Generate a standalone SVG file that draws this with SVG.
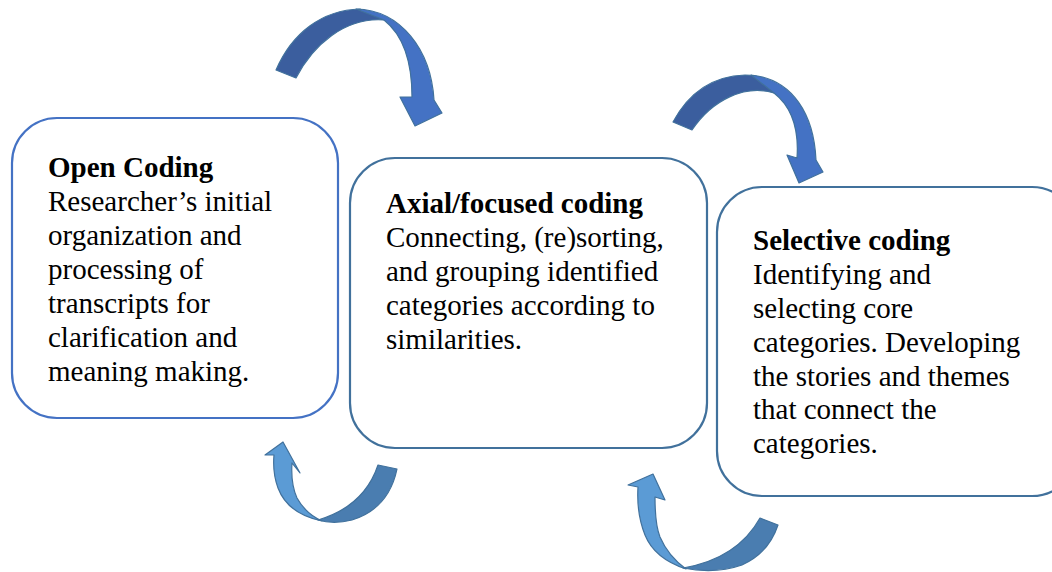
<svg xmlns="http://www.w3.org/2000/svg" width="1052" height="572" viewBox="0 0 1052 572">
  <style>
    .box { fill: #ffffff; stroke-width: 2.2; }
    .b1 { stroke: #4472C4; }
    .b2 { stroke: #41719C; }
    .t { font-family: 'Liberation Serif', 'Times New Roman', serif; font-size: 29px; fill: #000000; }
    .h { font-weight: bold; }
    .dn-back { fill: #3B5E9E; stroke: #41719C; stroke-width: 1.2; stroke-linejoin: round; }
    .dn-front { fill: #4472C4; stroke: #41719C; stroke-width: 1.2; stroke-linejoin: round; }
    .up-back { fill: #4A7DB0; stroke: #41719C; stroke-width: 1.2; stroke-linejoin: round; }
    .up-front { fill: #5B9BD5; stroke: #41719C; stroke-width: 1.2; stroke-linejoin: round; }
  </style>

  <!-- curved block arrows -->
  <g id="connectors">
    <!-- top arrow: Open Coding to Axial coding -->
    <g id="arrow-open-axial">
      <path class="dn-back" d="M276,70 C292,33 322,10 360,9 L384,20 C345,17 313,45 296,78 Z"/>
      <path class="dn-front" d="M356,9 C401,10 431,50 434,100 L442,113 L415,126 L400,97 L412,97 C412,62 403,35 384,20 Z"/>
    </g>
    <!-- top arrow: Axial coding to Selective coding -->
    <g id="arrow-axial-selective">
      <path class="dn-back" d="M673,122 C688,94 712,76 745,75 C755,75 762,77 767,81 L774,93 C745,84 712,100 692,130 Z"/>
      <path class="dn-front" d="M751,75 C793,79 814,115 816,160 L823,172 L799,183 L787,155 L797,158 C799,130 792,107 774,93 Z"/>
    </g>
    <!-- bottom arrow: back toward Open Coding -->
    <g id="arrow-axial-open">
      <path class="up-back" d="M378,465 L397,469 C392,493 378,512 352,520 C340,523 328,523 318,520 C345,512 368,495 378,465 Z"/>
      <path class="up-front" d="M322,521 C298,516 284,504 278,488 C274,477 273,466 274,455 L265,455 L283,442 L300,473 L292,463 C291,478 293,489 297,498 C303,509 311,516 322,521 Z"/>
    </g>
    <!-- bottom arrow: back toward Axial coding -->
    <g id="arrow-selective-axial">
      <path class="up-back" d="M760,518 L778,525 C772,543 760,557 742,565 C725,571 703,572 683,568 C718,562 745,545 760,518 Z"/>
      <path class="up-front" d="M686,569 C665,562 651,550 645,535 C639,520 637,503 638,487 L628,485 L653,474 L665,500 L655,497 C655,512 656,527 660,537 C666,551 675,561 686,569 Z"/>
    </g>
  </g>

  <!-- Open Coding -->
  <g id="node-open">
    <rect class="box b1" x="12" y="118" width="326" height="300" rx="45" ry="45"/>
    <text class="t">
      <tspan class="h" x="48" y="177">Open Coding</tspan>
      <tspan x="48" y="211">Researcher’s initial</tspan>
      <tspan x="48" y="245">organization and</tspan>
      <tspan x="48" y="279">processing of</tspan>
      <tspan x="48" y="313">transcripts for</tspan>
      <tspan x="48" y="347">clarification and</tspan>
      <tspan x="48" y="381">meaning making.</tspan>
    </text>
  </g>

  <!-- Axial/focused coding -->
  <g id="node-axial">
    <rect class="box b2" x="350" y="158" width="357" height="290" rx="45" ry="45"/>
    <text class="t">
      <tspan class="h" x="386" y="213">Axial/focused coding</tspan>
      <tspan x="386" y="247">Connecting, (re)sorting,</tspan>
      <tspan x="386" y="281">and grouping identified</tspan>
      <tspan x="386" y="315">categories according to</tspan>
      <tspan x="386" y="349">similarities.</tspan>
    </text>
  </g>

  <!-- Selective coding -->
  <g id="node-selective">
    <rect class="box b2" x="717" y="187" width="360" height="309" rx="45" ry="45"/>
    <text class="t">
      <tspan class="h" x="753" y="250">Selective coding</tspan>
      <tspan x="753" y="284">Identifying and</tspan>
      <tspan x="753" y="318">selecting core</tspan>
      <tspan x="753" y="352">categories. Developing</tspan>
      <tspan x="753" y="386">the stories and themes</tspan>
      <tspan x="753" y="419">that connect the</tspan>
      <tspan x="753" y="453">categories.</tspan>
    </text>
  </g>
</svg>
